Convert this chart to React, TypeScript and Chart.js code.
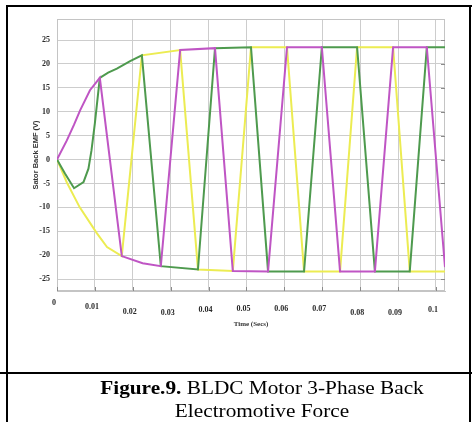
import React, { useEffect, useRef } from "react";
import { Chart, registerables } from "chart.js";

Chart.register(...registerables);

// ---- data ----
const xTickValues = [0, 0.01, 0.02, 0.03, 0.04, 0.05, 0.06, 0.07, 0.08, 0.09, 0.1];
const yTickValues = [-25, -20, -15, -10, -5, 0, 5, 10, 15, 20, 25];

const phaseATime = [0, 0.0026, 0.0045, 0.0061, 0.0087, 0.0113, 0.0171, 0.0226, 0.0274, 0.0325, 0.0417, 0.0464, 0.0557, 0.0607, 0.0699, 0.0747, 0.0839, 0.0887, 0.0976, 0.1024];
const phaseAEmf = [0, 4.0, 7.3, 10.3, 14.5, 17.1, -20.2, -21.7, -22.3, 22.9, 23.3, -23.3, -23.4, 23.5, 23.5, -23.4, -23.4, 23.5, 23.5, -22.5];

const phaseBTime = [0, 0.0021, 0.0045, 0.007, 0.0083, 0.0091, 0.01, 0.0113, 0.0135, 0.0158, 0.0193, 0.0224, 0.0274, 0.0372, 0.0417, 0.0512, 0.0557, 0.0652, 0.0699, 0.0792, 0.0839, 0.0931, 0.0976, 0.1024];
const phaseBEmf = [0, -2.9, -6.0, -4.7, -1.9, 1.9, 7.6, 17.1, 18.2, 19.0, 20.6, 21.8, -22.3, -23.0, 23.3, 23.5, -23.4, -23.4, 23.5, 23.5, -23.4, -23.4, 23.5, 23.5];

const phaseCTime = [0, 0.0026, 0.006, 0.0105, 0.0132, 0.0171, 0.0224, 0.0325, 0.0372, 0.0464, 0.0512, 0.0607, 0.0652, 0.0747, 0.0792, 0.0887, 0.0931, 0.1024];
const phaseCEmf = [0, -4.8, -10.0, -15.4, -18.3, -20.2, 21.8, 22.9, -23.0, -23.3, 23.5, 23.5, -23.4, -23.4, 23.5, 23.5, -23.4, -23.4];

// ---- style ----
const xLabelLineHeights = [15, 23, 34, 35, 29, 27, 27, 27, 35, 35, 30];

const toPoints = (t: number[], v: number[]) => t.map((x, i) => ({ x, y: v[i] }));

const framePlugin = {
  id: "frame",
  beforeDatasetsDraw(chart: any) {
    const { ctx, chartArea } = chart;
    const { left, top, right, bottom } = chartArea;
    ctx.save();
    ctx.strokeStyle = "#c4c4c4";
    ctx.lineWidth = 1;
    ctx.strokeRect(left + 0.5, top + 0.5, right - left - 1, bottom - top - 1);
    ctx.strokeStyle = "#8a8a8a";
    const xs = chart.scales.x;
    xTickValues.forEach((v) => {
      const px = Math.round(xs.getPixelForValue(v)) + 0.5;
      ctx.beginPath();
      ctx.moveTo(px, bottom);
      ctx.lineTo(px, bottom - 4);
      ctx.stroke();
    });
    const ys = chart.scales.y;
    yTickValues.forEach((v) => {
      const py = Math.round(ys.getPixelForValue(v)) + 0.5;
      ctx.beginPath();
      ctx.moveTo(right, py);
      ctx.lineTo(right - 4, py);
      ctx.stroke();
    });
    ctx.restore();
  },
};

export default function App() {
  const ref = useRef<HTMLCanvasElement>(null);

  useEffect(() => {
    const chart = new Chart(ref.current as HTMLCanvasElement, {
      type: "line",
      data: {
        datasets: [
          {
            label: "Phase A",
            data: toPoints(phaseATime, phaseAEmf),
            borderColor: "#bf55c4",
            borderWidth: 2,
            pointRadius: 0,
            tension: 0,
          },
          {
            label: "Phase B",
            data: toPoints(phaseBTime, phaseBEmf),
            borderColor: "#4e9a4e",
            borderWidth: 2,
            pointRadius: 0,
            tension: 0,
          },
          {
            label: "Phase C",
            data: toPoints(phaseCTime, phaseCEmf),
            borderColor: "#ecec52",
            borderWidth: 2,
            pointRadius: 0,
            tension: 0,
          },
        ],
      },
      options: {
        responsive: false,
        animation: false,
        devicePixelRatio: 1,
        layout: { padding: { left: 0, right: 27, top: 19, bottom: 0 } },
        plugins: { legend: { display: false }, tooltip: { enabled: false } },
        scales: {
          x: {
            type: "linear",
            min: 0,
            max: 0.1024,
            afterBuildTicks: (s: any) => {
              s.ticks = xTickValues.map((value) => ({ value }));
            },
            afterFit: (s: any) => {
              s.height = 81;
            },
            grid: { color: "#cdcdcd", drawTicks: false },
            border: { color: "#c4c4c4" },
            ticks: {
              padding: 4,
              labelOffset: -3,
              maxRotation: 0,
              autoSkip: false,
              color: "#2a2a2a",
              font: (ctx: any) => ({
                family: '"Liberation Serif", serif',
                weight: "bold",
                size: 8,
                lineHeight: `${xLabelLineHeights[ctx.index] ?? 20}px`,
              }),
              callback: (v: any) => String(v),
            },
            title: {
              display: true,
              text: "Time (Secs)",
              color: "#333",
              font: { family: '"Liberation Serif", serif', size: 7, weight: "bold" },
              padding: { top: 0, bottom: 43.5 },
            },
          },
          y: {
            min: -27.5,
            max: 29.4,
            afterBuildTicks: (s: any) => {
              s.ticks = yTickValues.map((value) => ({ value }));
            },
            afterFit: (s: any) => {
              s.width = 57;
            },
            grid: { color: "#cdcdcd", drawTicks: false },
            border: { color: "#c4c4c4" },
            ticks: {
              padding: 7,
              color: "#2a2a2a",
              font: { family: '"Liberation Serif", serif', weight: "bold", size: 8 },
            },
            title: {
              display: true,
              text: "Sator Back EMF (V)",
              color: "#333",
              font: { family: '"Liberation Sans", sans-serif', size: 7.5, weight: "bold" },
              padding: { top: 31.5, bottom: 0 },
            },
          },
        },
      },
      plugins: [framePlugin],
    } as any);
    return () => chart.destroy();
  }, []);

  const line = (l: number, t: number, w: number, h: number) => (
    <div style={{ position: "absolute", left: l, top: t, width: w, height: h, background: "#000" }} />
  );

  return (
    <div style={{ position: "absolute", left: 0, top: 0, width: 472, height: 422, background: "#fff", overflow: "hidden" }}>
      <canvas ref={ref} width={472} height={372} style={{ position: "absolute", left: 0, top: 0, width: 472, height: 372 }} />
      {line(6, 5, 466, 2)}
      {line(6, 5, 2, 417)}
      {line(0, 372, 472, 2)}
      {line(469, 5, 2, 417)}
      <div
        style={{
          position: "absolute",
          left: 42,
          top: 376,
          width: 440,
          textAlign: "center",
          fontFamily: '"Liberation Serif", "Times New Roman", serif',
          fontSize: 19,
          lineHeight: "23px",
          color: "#000",
          transform: "scaleX(1.12)",
          transformOrigin: "50% 0",
          whiteSpace: "nowrap",
        }}
      >
        <b>Figure.9.</b> BLDC Motor 3-Phase Back
        <br />
        Electromotive Force
      </div>
    </div>
  );
}
